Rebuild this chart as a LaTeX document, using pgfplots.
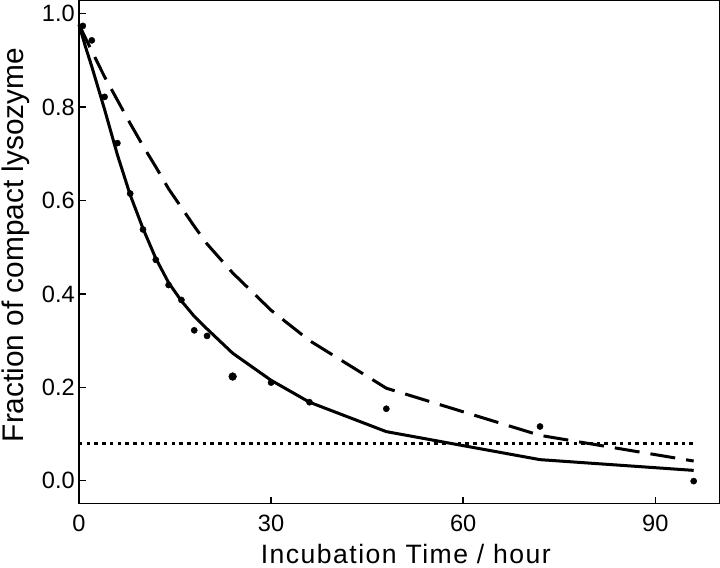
\documentclass[border=0pt]{standalone}
\usepackage{fontspec}
\setmainfont{Liberation Sans}
\usepackage{pgfplots}
\pgfplotsset{compat=1.18}
\begin{document}
\begin{tikzpicture}
\begin{axis}[
  scale only axis,
  width=638bp, height=501bp,
  xmin=0, xmax=100,
  ymin=-0.049, ymax=1.028,
  axis line style={line width=1.4bp},
  xtick={0,30,60,90},
  ytick={0,0.2,0.4,0.6,0.8,1.0},
  xtick pos=left, ytick pos=left,
  tick align=inside,
  major tick length=7bp,
  every tick/.style={black, line width=1.4bp},
  /pgf/number format/assume math mode=true,
  /pgf/number format/.cd, fixed, fixed zerofill, precision=1,
  /pgfplots/.cd,
  xticklabel={\pgfmathprintnumber[fixed, precision=0]{\tick}},
  ticklabel style={font=\fontsize{23.5bp}{28bp}\selectfont},
  yticklabel style={inner sep=0pt, anchor=east, xshift=-4bp},
  xticklabel style={inner sep=0pt, anchor=north, yshift=-11bp},
  xlabel={Incubation Time / hour},
  ylabel={Fraction of compact lysozyme},
  xlabel style={font=\fontsize{26.5bp}{30bp}\selectfont\addfontfeature{LetterSpace=5.5}, at={(axis description cs:0.5105,-0.119)}, anchor=base, inner sep=4bp},
  ylabel style={font=\fontsize{29.7bp}{34bp}\selectfont, at={(axis description cs:-0.0985,0.514)}, rotate=0, anchor=center, inner sep=2bp},
  clip=false,
]
% dotted horizontal line
\addplot[black, line width=3.5bp, dash pattern=on 3.5bp off 4.2bp, line cap=butt] coordinates {(0,0.08) (96,0.08)};
% dashed model
\addplot[black, line width=3bp, dash pattern=on 25bp off 11bp] coordinates {
(0,0.977) (2,0.92) (4,0.865) (6,0.815) (8,0.765) (10,0.717) (12,0.672) (14,0.625)
(16,0.585) (18,0.545) (20,0.507) (24,0.445) (30,0.365) (36,0.300) (48,0.198) (72,0.097) (96,0.042)};
% solid model
\addplot[black, line width=3bp, line join=round] coordinates {
(0,0.977) (1,0.93) (2,0.887) (4,0.795) (6,0.698) (8,0.612) (10,0.54) (12,0.476) (14,0.424)
(16,0.385) (18,0.352) (20,0.325) (24,0.273) (30,0.215) (36,0.168) (48,0.105) (72,0.045) (96,0.022)};
% data points
\addplot[only marks, mark=*, mark size=3.1bp, black] coordinates {
(0.6,0.974) (2,0.943) (4,0.822) (6,0.723) (8,0.615) (10,0.538) (12,0.473) (14,0.419)
(16,0.387) (18,0.322) (20,0.31) (30,0.21) (36,0.168) (48,0.154) (72,0.116) (96,-0.001)};
\addplot[only marks, mark=*, mark size=3.9bp, black] coordinates {(24,0.223)};
\end{axis}
\end{tikzpicture}
\end{document}
